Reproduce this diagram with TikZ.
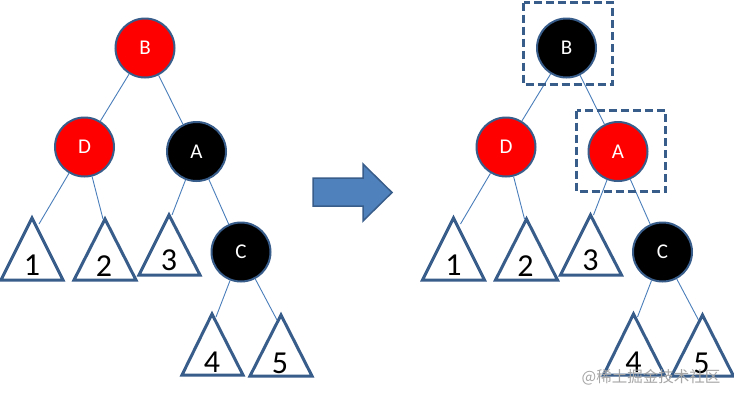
\documentclass[tikz,border=0pt]{standalone}
\usepackage{fontspec}
\setmainfont{Carlito}
\newfontfamily\cjkfont{Noto Sans CJK SC}
\definecolor{nodeborder}{HTML}{385D8A}
\definecolor{edgeblue}{HTML}{4A7EBB}
\definecolor{arrowfill}{HTML}{4F81BD}
\begin{document}
\begin{tikzpicture}[x=1pt,y=-1pt,
  rbnode/.style={circle, draw=nodeborder, line width=2pt, minimum size=59pt, inner sep=0pt, text=white, font=\fontsize{21}{21}\selectfont},
  subtree/.style={draw=nodeborder, line width=3pt, line join=miter},
  digit/.style={font=\fontsize{32}{32}\selectfont, inner sep=0pt, text=black},
  link/.style={draw=edgeblue, line width=0.9pt},
  focus/.style={draw=nodeborder, line width=2.5pt, dash pattern=on 8pt off 4pt},
  bigarrow/.style={fill=arrowfill, draw=nodeborder, line width=1.5pt, line join=miter}]
\useasboundingbox (0,0) rectangle (734,400);
\fill[white] (0,0) rectangle (734,400);
\foreach \p/\dx/\bcol/\acol in {l/0/red/black, r/421.5/black/red}{
  % subtrees
  \draw[subtree] (\dx+32,218) -- (\dx+63,280) -- (\dx+1,280) -- cycle;
  \draw[subtree] (\dx+105,219) -- (\dx+136,280) -- (\dx+74,280) -- cycle;
  \draw[subtree] (\dx+169,215) -- (\dx+200,275) -- (\dx+139,275) -- cycle;
  \draw[subtree] (\dx+212,314) -- (\dx+243,375) -- (\dx+182,375) -- cycle;
  \draw[subtree] (\dx+281,315) -- (\dx+312,376) -- (\dx+250,376) -- cycle;
  \node[digit] (\p n1) at (\dx+32,265) {1};
  \node[digit] (\p n2) at (\dx+104,266) {2};
  \node[digit] (\p n3) at (\dx+169,260) {3};
  \node[digit] (\p n4) at (\dx+212,362) {4};
  \node[digit] (\p n5) at (\dx+280,363) {5};
  \coordinate (\p t1) at (\dx+39,224);
  \coordinate (\p t2) at (\dx+103,219);
  \coordinate (\p t3) at (\dx+172,215);
  \coordinate (\p t4) at (\dx+216,317);
  \coordinate (\p t5) at (\dx+277,320);
  % nodes
  \node[rbnode, fill=\bcol] (\p B) at (\dx+145,48) {B};
  \node[rbnode, fill=red] (\p D) at (\dx+84.5,147) {D};
  \node[rbnode, fill=\acol] (\p A) at (\dx+196.5,151.5) {A};
  \node[rbnode, fill=black] (\p C) at (\dx+241,252) {C};
  % links
  \draw[link] (\p B) -- (\p D);
  \draw[link] (\p B) -- (\p A);
  \draw[link] (\p D) -- (\p t1);
  \draw[link] (\p D) -- (\p t2);
  \draw[link] (\p A) -- (\p t3);
  \draw[link] (\p A) -- (\p C);
  \draw[link] (\p C) -- (\p t4);
  \draw[link] (\p C) -- (\p t5);
}
% transformation arrow
\draw[bigarrow] (313,178) -- (363,178) -- (363,164) -- (392,192.5) -- (363,221) -- (363,206) -- (313,206) -- cycle;
% highlighted nodes
\draw[focus] (523.5,2.5) rectangle (612.5,84.5);
\draw[focus] (576.5,110.5) rectangle (665.5,191.5);
% watermark
\node[font=\cjkfont\fontsize{15.5}{15.5}\selectfont, text=black!35, inner sep=0pt] (wm) at (651,377) {@稀土掘金技术社区};
\end{tikzpicture}
\end{document}
